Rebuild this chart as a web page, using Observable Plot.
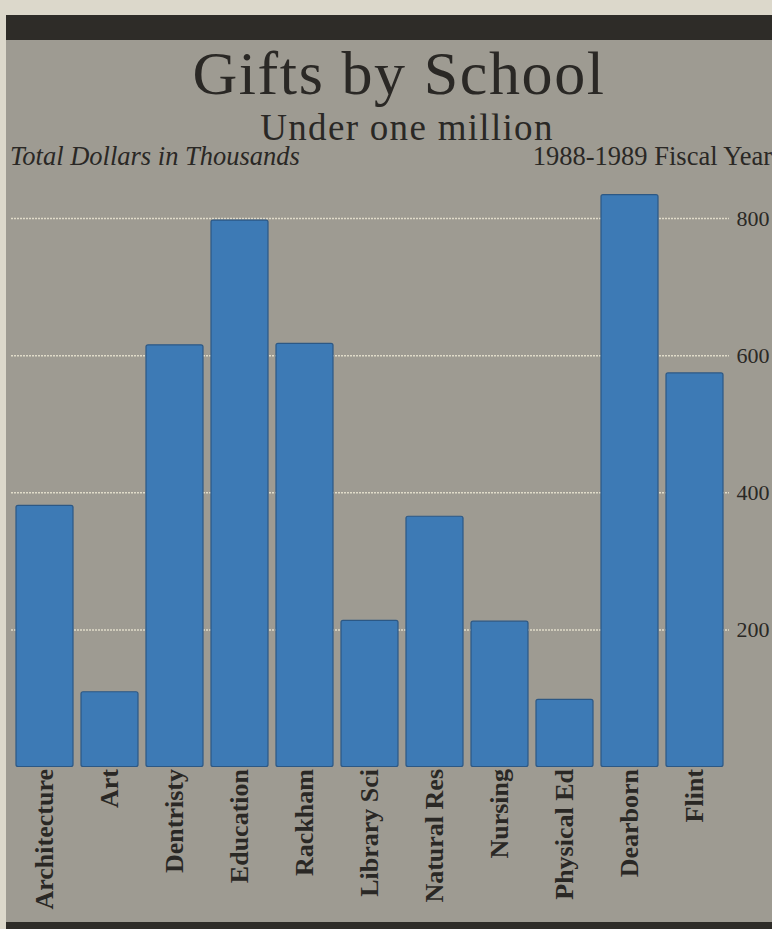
<!DOCTYPE html>
<html>
<head>
<meta charset="utf-8">
<script src="https://cdn.jsdelivr.net/npm/d3@7"></script>
<script src="https://cdn.jsdelivr.net/npm/@observablehq/plot@0.6"></script>
<style>
  html, body { margin: 0; padding: 0; }
  body { width: 772px; height: 929px; background: #dcd8cb; position: relative; overflow: hidden;
         font-family: "Liberation Serif", "DejaVu Serif", serif; color: #2a2825; }
  #panel { position: absolute; left: 6px; top: 15px; width: 766px; height: 914px; background: #9e9b92; }
  #topband { position: absolute; left: 6px; top: 15px; width: 766px; height: 25px; background: #2e2c28; }
  #botband { position: absolute; left: 6px; top: 922px; width: 766px; height: 7px; background: #2e2c28; }
  .t { position: absolute; white-space: nowrap; line-height: 1; }
  #title { font-size: 62px; letter-spacing: 1.6px; top: 42px; left: 399px; transform: translateX(-50%); }
  #subtitle { font-size: 37px; letter-spacing: 1.3px; top: 109px; left: 407px; transform: translateX(-50%); }
  #left { font-size: 26.5px; font-style: italic; top: 143px; left: 10px; }
  #right { font-size: 26.5px; top: 143px; right: 0px; }
  #chart { position: absolute; left: 0; top: 180px; }
</style>
</head>
<body>
<div id="panel"></div>
<div id="topband"></div>
<div id="botband"></div>
<div class="t" id="title">Gifts by School</div>
<div class="t" id="subtitle">Under one million</div>
<div class="t" id="left">Total Dollars in Thousands</div>
<div class="t" id="right">1988-1989 Fiscal Year</div>
<div id="chart"></div>
<script>
const schools = ["Architecture", "Art", "Dentristy", "Education", "Rackham", "Library Sci",
                 "Natural Res", "Nursing", "Physical Ed", "Dearborn", "Flint"];
const gifts = [381, 109, 615, 797, 617, 213, 365, 212, 98, 834, 574];
const yTicks = [200, 400, 600, 800];

const data = schools.map((s, i) => ({school: s, value: gifts[i]}));

const chart = Plot.plot({
  width: 772,
  height: 742,
  marginLeft: 13,
  marginRight: 46,
  marginTop: 38,
  marginBottom: 155.5,
  style: {background: "transparent", overflow: "visible", color: "#2a2825",
          fontFamily: "'Liberation Serif', 'DejaVu Serif', serif"},
  x: {domain: schools, paddingInner: 0.12, paddingOuter: 0},
  y: {domain: [0, 800]},
  marks: [
    Plot.ruleY(yTicks, {stroke: "#ebe6d2", strokeWidth: 1.5, strokeOpacity: 0.85,
                        strokeDasharray: "2,1", insetLeft: -2, insetRight: -3}),
    Plot.barY(data, {x: "school", y: "value", fill: "#3d7ab5", stroke: "#2c5885",
                     strokeWidth: 1.2, rx: 2}),
    Plot.axisX({tickRotate: -90, tickSize: 0, tickPadding: 2, fontSize: 26,
                fontWeight: "bold", label: null}),
    Plot.axisY({anchor: "right", ticks: yTicks, tickSize: 0, tickPadding: 10,
                fontSize: 22, label: null})
  ]
});
document.getElementById("chart").appendChild(chart);
</script>
</body>
</html>
